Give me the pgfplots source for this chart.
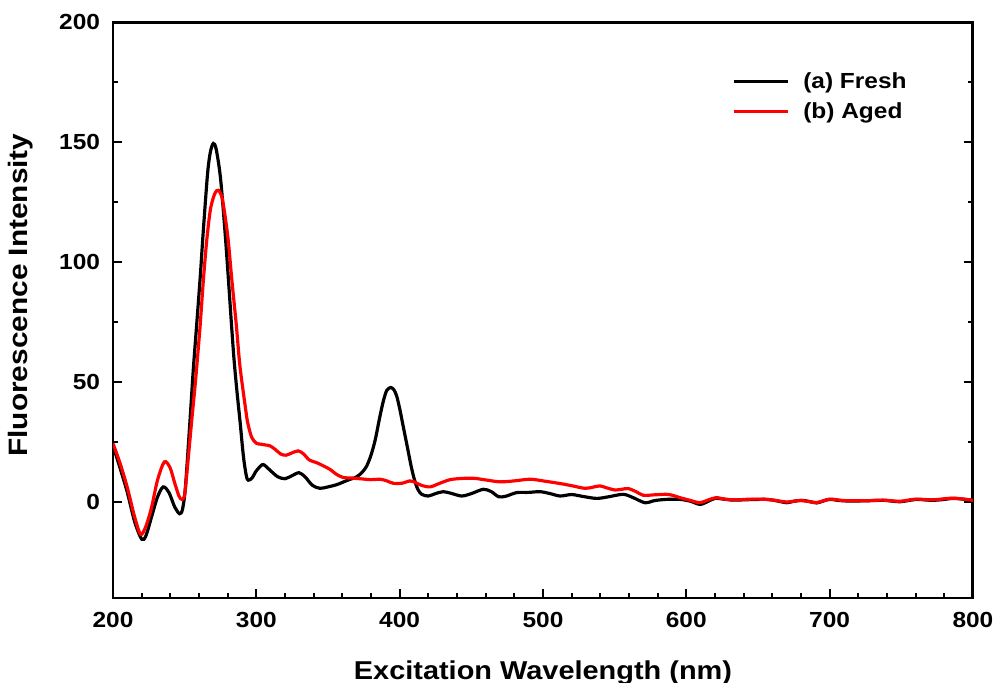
\documentclass[border=0pt]{standalone}
\usepackage{fontspec}
\setmainfont{Liberation Sans}[FakeStretch=1.12]
\usepackage{pgfplots}
\pgfplotsset{compat=1.18}

% excitation spectra
\pgfplotstableread{
x y
200 23.5
205 14
210 4
215 -8
220 -15.5
223 -14
227 -6
231 2
235 6.3
239 4
243 -2
246.5 -4.9
248.5 -3
250.5 6
253.7 33.8
256 55
258.4 74
261 95
263 113
266 137
268 146
270 149.4
272 147
275 135
278.1 113
280.5 93
282.8 72.8
284.5 59
286.5 46
288.6 33.8
291 19
293 11
294.4 9.1
297 10
300 13
304 15.5
306 15.2
310 13
315 10.5
320 9.7
325 11
329.8 12.2
334 10.5
339 7
344.4 5.7
350 6.3
356 7.2
363 8.9
370 10.5
374 12.5
377 15
380 19.5
383 26
386 35
388.6 42
391 46.5
393.7 47.7
396 46.8
398 44
400 39
402 33
404 27
406 21
408 15
410 10
412.5 5.5
415.4 3.2
420 2.5
425 3.5
430.4 4.3
436 3.6
443.3 2.5
450 3.5
458.4 5.3
464 4.3
469 2.2
474 2.4
481.6 3.9
490 4
497.9 4.3
505 3.5
511.9 2.5
520 3.1
528 2.3
537.5 1.5
546 2.2
556 3.2
563 1.8
571.2 -0.3
578 0.6
586.3 1.1
595.6 1.1
603 0.3
609.5 -1
615 0.2
620 1.5
626 1.2
632.8 0.8
645 1.0
656 1.1
663 0.5
670 -0.3
675 0.3
680.5 0.7
686 0.2
691 -0.4
696 0.5
700.3 1.1
707 0.6
714 0.4
725 0.5
737.4 0.7
743 0.4
749 0.1
755 0.6
760.7 1.1
766 0.9
772 0.7
779 1.0
786 1.5
793 1.2
800 0.7
}\fresh

\pgfplotstableread{
x y
200 24.4
205 16
210 6
215 -6
219.3 -13.5
223 -10
227 -2
231 9
235.8 16.7
239.8 14.3
243 8
246 2.5
248 1.1
250 3
252 15
254.9 33.8
257.5 50
260.7 72.8
263 92
265.4 109
268 122
271 128.5
273.5 129.9
276 127
278 120
280.4 109
283 92
286 74
288.5 57
292 41
294 33
296.8 26.9
300 24.5
303 24.1
306 23.8
309.5 23.4
313 22
317 20
320.7 19.5
325 20.5
329.3 21.3
333 20
337 17.5
342 16.4
347 15
351.4 13.6
356 11.5
360.7 10.2
366 10
372.3 9.7
380 9.3
386.3 9.5
391 8.8
395.6 7.8
401.4 7.8
407.2 8.8
410 8.4
415 7
421.2 6.3
428 7.8
435.1 9.3
443 9.8
451.4 9.9
460 9.2
470 8.4
480 8.8
491 9.5
500 8.8
511.9 7.7
520 6.8
529.3 5.7
535 6.2
539.8 6.7
545 5.8
550.2 5.0
555 5.3
559.5 5.6
565 4.3
570 2.8
578 3.0
586.3 3.2
591 2.7
595.6 1.8
602 0.8
609.5 -0.3
615 0.8
620.7 1.8
627 1.2
635 0.9
645 1.2
656 1.1
663 0.6
670 0
680 0.6
691 -0.2
700 1.2
710 0.6
725 0.5
737 0.8
749 0.3
760 1.2
772 0.9
786 1.6
800 0.7
}\aged

\begin{document}
\begin{tikzpicture}
\begin{axis}[
    name=ax,
    scale only axis,
    width=433pt,
    height=290pt,
    xmin=200, xmax=800,
    ymin=-40, ymax=200,
    xtick={200,300,...,800},
    ytick={0,50,...,200},
    minor x tick num=4,
    minor y tick num=1,
    xtick pos=lower,
    ytick pos=both,
    yticklabel pos=left,
    tick align=inside,
    major tick length=4.5pt,
    minor tick length=2.5pt,
    tick style={black, line width=1.1pt},
    axis line style={line width=1.5pt},
    /pgf/number format/assume math mode=true,
    /pgf/number format/1000 sep={},
    tick label style={font=\fontsize{11}{13}\selectfont\bfseries},
    xticklabel style={yshift=-3.5pt},
    yticklabel style={xshift=-3pt},
    xlabel={Excitation Wavelength (nm)},
    ylabel={Fluorescence Intensity},
    xlabel style={font=\fontsize{13}{15}\selectfont\bfseries,
        at={(axis description cs:0.5,-0.108)}, anchor=north, inner sep=0pt},
    ylabel style={font=\fontsize{13.4}{15}\selectfont\bfseries,
        at={(axis description cs:-0.0924,0.526)}, anchor=south, inner sep=0pt},
    legend style={draw=none, fill=none,
        at={(axis description cs:0.72,0.92)}, anchor=north west,
        font=\fontsize{11}{13}\selectfont\bfseries,
        row sep=1.5pt, inner sep=0pt, nodes={inner sep=2pt}},
    legend cell align=left,
    legend image code/.code={\draw[#1] (0pt,0pt) -- (27pt,0pt);},
]
\addplot[black, line width=1.6pt, smooth] table {\fresh};
\addlegendentry{\hspace{5pt}(a) Fresh}
\addplot[red, line width=1.6pt, smooth] table {\aged};
\addlegendentry{\hspace{5pt}(b) Aged}
\end{axis}
\pgfresetboundingbox
\path[use as bounding box] ([shift={(-56.9pt,-42.3pt)}]ax.south west)
    rectangle ([shift={(10.1pt,11.1pt)}]ax.north east);
\end{tikzpicture}
\end{document}
